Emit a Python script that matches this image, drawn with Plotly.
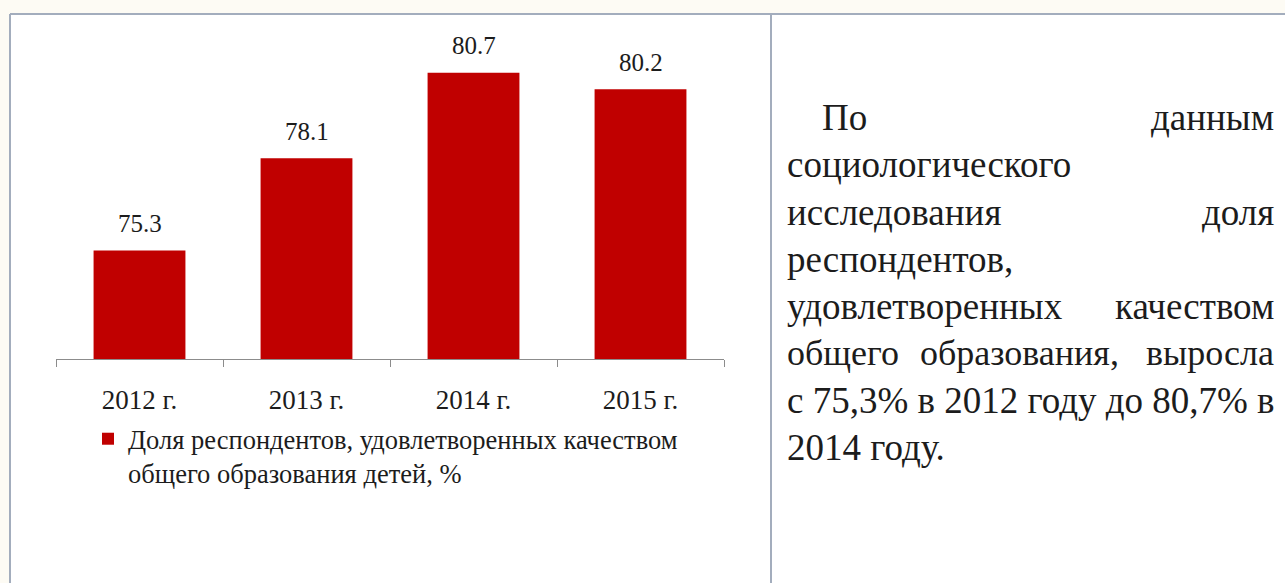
import plotly.graph_objects as go

# ---- data ----
categories = ["2012 г.", "2013 г.", "2014 г.", "2015 г."]
values = [75.3, 78.1, 80.7, 80.2]
series_name = "Доля респондентов, удовлетворенных качеством<br>общего образования детей, %"
y_min, y_max = 72, 82

text_lines = [
    ["По", "данным"],
    ["социологического"],
    ["исследования", "доля"],
    ["респондентов,"],
    ["удовлетворенных", "качеством"],
    ["общего", "образования,", "выросла"],
    ["с 75,3% в 2012 году до 80,7% в"],
    ["2014 году."],
]

W, H = 1285, 583
def fx(p):
    return p / W
def fy(p):
    return 1 - p / H

SERIF = "Liberation Serif, Times New Roman, serif"
BAR = "#C00000"
INK = "#1c1c1c"
BORDER = "#a3adbd"
TXT = 37

fig = go.Figure()
fig.add_trace(go.Bar(
    x=categories, y=values, name=series_name,
    marker=dict(color=BAR, line=dict(width=0)),
    showlegend=True, hoverinfo="x+y",
))

# data labels
for c, v in zip(categories, values):
    fig.add_annotation(x=c, y=v, xref="x", yref="y", text=f"{v:.1f}",
                       showarrow=False, yshift=27, yanchor="middle",
                       font=dict(family=SERIF, size=25, color=INK))

# right-hand justified text
L, R, INDENT = 785, 1276, 820
y0, dy = 118, 47
def txt(x, y, s, anchor, size=TXT):
    fig.add_annotation(x=fx(x), y=fy(y), xref="paper", yref="paper", text=s,
                       xanchor=anchor, yanchor="middle", showarrow=False,
                       font=dict(family=SERIF, size=size, color=INK))

for i, words in enumerate(text_lines):
    yc = y0 + i * dy
    left = INDENT if i == 0 else L
    size = 36 if len(words) == 3 else TXT
    txt(left, yc, words[0], "left", size)
    if len(words) > 1:
        txt(R, yc, words[-1], "right", size)
    if len(words) == 3:
        txt(1020, yc, words[1], "center", size)

# table borders / page background
fig.add_shape(type="rect", xref="paper", yref="paper", x0=0, x1=1, y0=fy(14), y1=1,
              fillcolor="#fdfbf4", line=dict(width=0), layer="below")
fig.add_shape(type="rect", xref="paper", yref="paper", x0=0, x1=fx(10), y0=0, y1=fy(14),
              fillcolor="#fdfbf4", line=dict(width=0), layer="below")
for (x0, y0_, x1, y1) in [(10, 14, W, 14), (10, 14, 10, H), (771, 14, 771, H)]:
    fig.add_shape(type="line", xref="paper", yref="paper",
                  x0=fx(x0), y0=fy(y0_), x1=fx(x1), y1=fy(y1),
                  line=dict(color=BORDER, width=2))

fig.update_layout(
    width=W, height=H,
    margin=dict(l=0, r=0, t=0, b=0),
    paper_bgcolor="white", plot_bgcolor="white",
    bargap=0.45,
    font=dict(family=SERIF, color=INK),
    xaxis=dict(domain=[fx(56), fx(724)], showline=True, linecolor="#8c8c8c", linewidth=1,
               ticks="outside", tickson="boundaries", ticklen=7, tickcolor="#8c8c8c",
               tickfont=dict(family=SERIF, size=27, color=INK), ticklabelstandoff=17,
               showgrid=False, zeroline=False, fixedrange=True),
    yaxis=dict(domain=[fy(359), fy(30)], range=[y_min, y_max], visible=False,
               showgrid=False, zeroline=False, fixedrange=True),
    legend=dict(x=fx(88), y=fy(415), xanchor="left", yanchor="top", valign="top",
                font=dict(family=SERIF, size=26.5, color=INK), itemwidth=30,
                bgcolor="rgba(0,0,0,0)"),
    showlegend=True,
)

fig.write_html("out.html", config={"displayModeBar": False},
               post_script="document.body.style.margin='0';document.body.style.overflow='hidden';")
